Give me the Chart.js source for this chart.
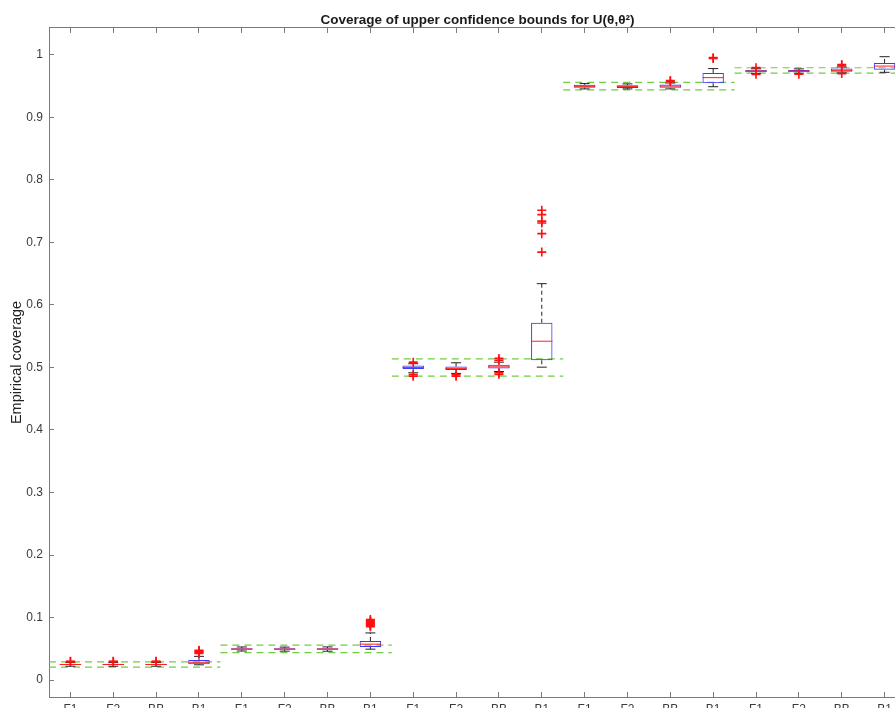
<!DOCTYPE html>
<html>
<head>
<meta charset="utf-8">
<script src="https://cdn.jsdelivr.net/npm/chart.js@4.4.0/dist/chart.umd.min.js"></script>
<style>
html,body{margin:0;padding:0;background:#fff;overflow:hidden;}
#wrap{width:895px;height:708px;overflow:hidden;position:relative;background:#fff;}
canvas{display:block;}
</style>
</head>
<body>
<div id="wrap"><canvas id="c" width="955" height="730"></canvas></div>
<script>
const chartTitle = 'Coverage of upper confidence bounds for U(\u03B8,\u03B8\u00B2)';
const yAxisLabel = 'Empirical coverage';
const categories = ['F1','F2','BB','B1','F1','F2','BB','B1','F1','F2','BB','B1','F1','F2','BB','B1','F1','F2','BB','B1'];
const yTicks = [0,0.1,0.2,0.3,0.4,0.5,0.6,0.7,0.8,0.9,1];

const whiskerLow  = [0.0222,0.0222,0.0222,0.0245, 0.0465,0.0463,0.0462,0.0495, 0.4915,0.4905,0.4935,0.5005, 0.9455,0.9455,0.9455,0.9490, 0.9702,0.9705,0.9712,0.9720];
const quartile1   = [0.0240,0.0240,0.0240,0.0255, 0.0485,0.0484,0.0485,0.0530, 0.4975,0.4960,0.4985,0.5115, 0.9475,0.9470,0.9472,0.9545, 0.9722,0.9722,0.9728,0.9760];
const medians     = [0.0250,0.0250,0.0250,0.0285, 0.0497,0.0496,0.0497,0.0575, 0.5000,0.4985,0.5010,0.5420, 0.9496,0.9495,0.9500,0.9635, 0.9740,0.9740,0.9752,0.9820];
const quartile3   = [0.0262,0.0262,0.0262,0.0320, 0.0510,0.0509,0.0510,0.0625, 0.5030,0.5015,0.5045,0.5715, 0.9520,0.9515,0.9525,0.9710, 0.9760,0.9758,0.9780,0.9870];
const whiskerHigh = [0.0283,0.0283,0.0283,0.0380, 0.0530,0.0528,0.0531,0.0755, 0.5060,0.5075,0.5085,0.6340, 0.9540,0.9535,0.9550,0.9780, 0.9778,0.9775,0.9805,0.9970];
const outliers = [
  [0.0296,0.0300],[0.0295,0.0301],[0.0296,0.0302],[0.0425,0.0440,0.0455,0.0465,0.0478],
  [],[],[],[0.0855,0.0875,0.0890,0.0905,0.0920,0.0935,0.0950,0.0970],
  [0.5085,0.4885,0.4860],[0.4882,0.4860],[0.5145,0.5115,0.4915,0.4890],[0.6845,0.7140,0.7310,0.7340,0.7445,0.7515],
  [],[],[0.9572,0.9590],[0.9940,0.9955],
  [0.9688,0.9795],[0.9690],[0.9700,0.9825,0.9845],[]
];
const groupNominal = [0.025,0.05,0.5,0.95,0.975];
const bandLow  = [0.0207,0.0440,0.4862,0.9440,0.9707];
const bandHigh = [0.0293,0.0560,0.5138,0.9560,0.9793];

const xs = categories.map((_, i) => i + 1);
const groupSize = 4;

function bandPoints(arr) {
  const pts = [];
  arr.forEach((v, g) => {
    const a = g * groupSize + 0.5, b = (g + 1) * groupSize + 0.5;
    pts.push({x: a, y: v}, {x: b, y: v}, {x: b, y: null});
  });
  return pts;
}
const whiskerPts = [];
xs.forEach((x, i) => {
  whiskerPts.push({x, y: quartile3[i]}, {x, y: whiskerHigh[i]}, {x, y: null});
  whiskerPts.push({x, y: quartile1[i]}, {x, y: whiskerLow[i]}, {x, y: null});
});
const capPts = [];
xs.forEach((x, i) => { capPts.push({x, y: whiskerLow[i]}, {x, y: whiskerHigh[i]}); });
const outlierPts = [];
xs.forEach((x, i) => outliers[i].forEach(v => outlierPts.push({x, y: v})));

const AXIS = '#7a7a7a';
const TXT = '#3a3a3a';
const green = '#72cc42';
const FONT = 'Liberation Sans, Arial, Helvetica, sans-serif';

const commonGrid = {drawOnChartArea: false, drawTicks: true, tickLength: -5, color: AXIS, offset: false, lineWidth: 1};
const setXTicks = s => { s.ticks = xs.map(v => ({value: v})); };
const setYTicks = s => { s.ticks = yTicks.map(v => ({value: v})); };

new Chart(document.getElementById('c'), {
  type: 'bar',
  data: {
    datasets: [
      {type: 'line', data: bandPoints(bandHigh), borderColor: green, borderDash: [7, 5], borderWidth: 1.2, pointRadius: 0, spanGaps: false, fill: false, order: 6},
      {type: 'line', data: bandPoints(bandLow), borderColor: green, borderDash: [7, 5], borderWidth: 1.2, pointRadius: 0, spanGaps: false, fill: false, order: 6},
      {type: 'line', data: whiskerPts, borderColor: '#222', borderDash: [4, 3], borderWidth: 1, pointRadius: 0, spanGaps: false, fill: false, order: 5},
      {type: 'scatter', data: capPts, pointStyle: 'line', pointRadius: 5, pointBorderColor: '#222', pointBorderWidth: 1, pointBackgroundColor: '#222', order: 4},
      {type: 'bar', data: xs.map((x, i) => ({x, y: [quartile1[i], quartile3[i]]})), backgroundColor: 'rgba(0,0,0,0)', borderColor: '#3a3aff', borderWidth: 1, borderSkipped: false, barPercentage: 0.5, categoryPercentage: 1, order: 3},
      {type: 'scatter', data: xs.map((x, i) => ({x, y: medians[i]})), pointStyle: 'line', pointRadius: 10.7, pointBorderColor: '#ff2020', pointBorderWidth: 1, order: 2},
      {type: 'scatter', data: outlierPts, pointStyle: 'cross', pointRadius: 4.5, pointBorderColor: '#ff1010', pointBackgroundColor: '#ff1010', pointBorderWidth: 1.6, order: 1}
    ]
  },
  options: {
    responsive: false,
    animation: false,
    devicePixelRatio: 1,
    layout: {padding: {left: 0, right: 0, top: 0, bottom: 0}},
    plugins: {
      legend: {display: false},
      tooltip: {enabled: false},
      title: {display: true, text: chartTitle, color: '#1a1a1a', font: {family: FONT, size: 13.5, weight: 'bold', lineHeight: 1.18}, padding: {top: 12, bottom: 0}}
    },
    scales: {
      x: {
        type: 'linear', position: 'bottom', min: 0.5, max: 20.5, offset: false,
        afterBuildTicks: setXTicks,
        afterFit: s => { s.height = 33; },
        ticks: {autoSkip: false, maxRotation: 0, padding: 10.5, color: TXT, font: {family: FONT, size: 12}, callback: v => categories[v - 1] || ''},
        grid: commonGrid,
        border: {color: AXIS, width: 1}
      },
      x2: {
        type: 'linear', position: 'top', min: 0.5, max: 20.5, offset: false,
        afterBuildTicks: setXTicks,
        afterFit: s => { s.height = 0; },
        ticks: {display: false},
        grid: commonGrid,
        border: {color: AXIS, width: 1}
      },
      y: {
        type: 'linear', position: 'left', min: -0.027, max: 1.043,
        afterBuildTicks: setYTicks,
        afterFit: s => { s.width = 49; },
        ticks: {padding: 11, color: TXT, font: {family: FONT, size: 12}, callback: v => String(v)},
        grid: commonGrid,
        border: {color: AXIS, width: 1},
        title: {display: true, text: yAxisLabel, color: '#222', font: {family: FONT, size: 14.5}, padding: {top: 8, bottom: 0}}
      },
      y2: {
        type: 'linear', position: 'right', min: -0.027, max: 1.043,
        afterBuildTicks: setYTicks,
        afterFit: s => { s.width = 49; },
        ticks: {display: false},
        grid: commonGrid,
        border: {color: AXIS, width: 1}
      }
    }
  }
});
</script>
</body>
</html>
